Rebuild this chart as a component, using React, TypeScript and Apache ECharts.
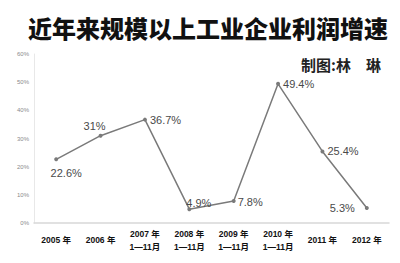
import React, { useEffect, useRef } from "react";
import * as echarts from "echarts";

const categories = [
  "2005 年",
  "2006 年",
  "2007 年\n1—11月",
  "2008 年\n1—11月",
  "2009 年\n1—11月",
  "2010 年\n1—11月",
  "2011 年",
  "2012 年",
];
const growth = [22.6, 31, 36.7, 4.9, 7.8, 49.4, 25.4, 5.3];
const labelTexts = ["22.6%", "31%", "36.7%", "4.9%", "7.8%", "49.4%", "25.4%", "5.3%"];
const yTicks = [0, 10, 20, 30, 40, 50, 60];

const titleText = "近年来规模以上工业企业利润增速";
const creditText = "制图:林\u3000琳";

export default function App() {
  const ref = useRef<HTMLDivElement>(null);
  useEffect(() => {
    if (!ref.current) return;
    const chart = echarts.init(ref.current, null, { renderer: "svg" });
    const labelPos: any[] = [
      { position: "bottom", distance: 6, offset: [10, 0] },
      { position: "top", distance: 2, offset: [-6, 0] },
      { position: "right", distance: 3, offset: [0, 0] },
      { position: "right", distance: 0, offset: [-5, -6] },
      { position: "right", distance: 2, offset: [0, 1] },
      { position: "right", distance: 3, offset: [0, 0] },
      { position: "right", distance: 3, offset: [0, 0] },
      { position: "left", distance: 10, offset: [0, 0] },
    ];
    const data = growth.map((v, i) => ({
      value: v,
      label: {
        show: true,
        formatter: labelTexts[i],
        position: labelPos[i].position,
        distance: labelPos[i].distance,
        offset: labelPos[i].offset,
        fontSize: 11,
        color: "#4a4a4a",
        fontFamily: "'Liberation Sans', 'DejaVu Sans', sans-serif",
      },
    }));
    chart.setOption({
      animation: false,
      backgroundColor: "#ffffff",
      title: {
        text: titleText,
        left: 23,
        top: 10,
        textStyle: {
          fontSize: 24,
          fontWeight: 900,
          color: "#111",
          fontFamily: "'Noto Sans CJK SC', sans-serif",
        },
      },
      graphic: [
        {
          type: "text",
          left: 301,
          top: 57,
          style: {
            text: creditText,
            fontSize: 15,
            fontWeight: "bold",
            fill: "#222",
            fontFamily: "'Noto Sans CJK SC', sans-serif",
          },
        },
      ],
      grid: { left: 34, right: 11, top: 54, bottom: 40, containLabel: false },
      xAxis: {
        type: "category",
        data: categories,
        boundaryGap: true,
        axisLine: { show: true, lineStyle: { color: "#d8d8d8", width: 1.5 } },
        axisTick: { show: false },
        axisLabel: {
          interval: 0,
          margin: 17,
          verticalAlign: "middle",
          fontSize: 8.5,
          fontWeight: "bold",
          lineHeight: 13,
          color: "#111",
          fontFamily: "'Liberation Sans', 'Noto Sans CJK SC', sans-serif",
        },
        splitLine: { show: false },
      },
      yAxis: {
        type: "value",
        min: yTicks[0],
        max: yTicks[yTicks.length - 1],
        interval: 10,
        axisLine: { show: true, lineStyle: { color: "#e8e8e8", width: 1 } },
        axisTick: { show: false },
        splitLine: { show: false },
        axisLabel: {
          formatter: "{value}%",
          fontSize: 6,
          color: "#8a8a8a",
          margin: 5,
          fontFamily: "'Liberation Sans', sans-serif",
        },
      },
      series: [
        {
          type: "line",
          data,
          symbol: "circle",
          symbolSize: 4,
          lineStyle: { color: "#7a7a7a", width: 1.5 },
          itemStyle: { color: "#7a7a7a" },
        },
      ],
    });
    return () => chart.dispose();
  }, []);
  return (
    <div
      ref={ref}
      style={{ position: "fixed", left: 0, top: 0, width: 400, height: 263 }}
    />
  );
}
